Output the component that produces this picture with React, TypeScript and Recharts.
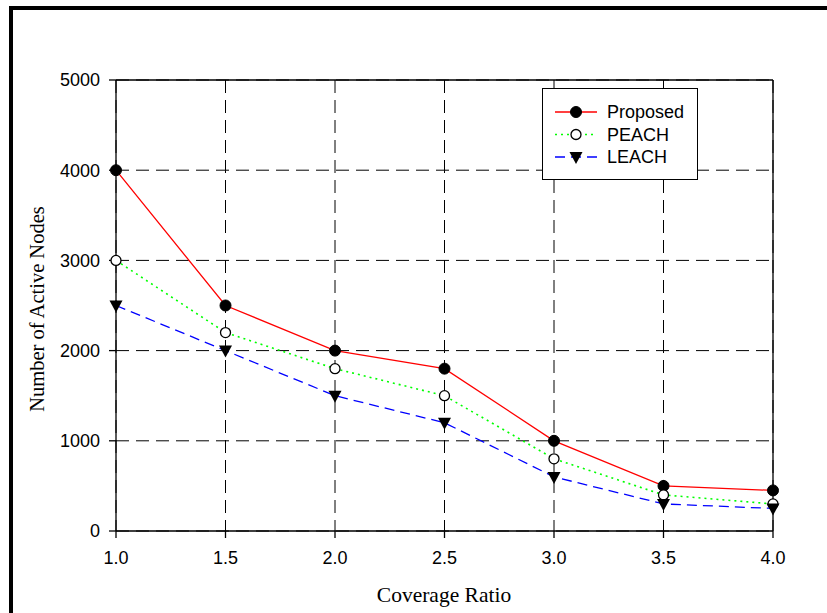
import React from 'react';
import { LineChart, Line, XAxis, YAxis, CartesianGrid, ReferenceLine, Label } from 'recharts';

const coverage = [1.0, 1.5, 2.0, 2.5, 3.0, 3.5, 4.0];
const proposed = [4000, 2500, 2000, 1800, 1000, 500, 450];
const peach = [3000, 2200, 1800, 1500, 800, 400, 300];
const leach = [2500, 2000, 1500, 1200, 600, 300, 250];
const xTicks = [1.0, 1.5, 2.0, 2.5, 3.0, 3.5, 4.0];
const yTicks = [0, 1000, 2000, 3000, 4000, 5000];

const data = coverage.map((c, i) => ({ x: c, proposed: proposed[i], peach: peach[i], leach: leach[i] }));

const FilledDot = (props: any) => {
  const { cx, cy } = props;
  if (cx == null || cy == null) return null;
  return <circle cx={cx} cy={cy} r={5.5} fill="#000" stroke="#000" strokeWidth={1} />;
};
const OpenDot = (props: any) => {
  const { cx, cy } = props;
  if (cx == null || cy == null) return null;
  return <circle cx={cx} cy={cy} r={5} fill="#fff" stroke="#000" strokeWidth={1.3} />;
};
const TriDot = (props: any) => {
  const { cx, cy } = props;
  if (cx == null || cy == null) return null;
  return <path d={`M${cx - 6.5},${cy - 5} L${cx + 6.5},${cy - 5} L${cx},${cy + 7} Z`} fill="#000" />;
};

const legendItems = [
  { name: 'Proposed', color: '#ff0000', dash: undefined, dot: 'filled' },
  { name: 'PEACH', color: '#00ff00', dash: '2 4', dot: 'open' },
  { name: 'LEACH', color: '#0000ff', dash: '10 6', dot: 'tri' },
];

const LegendBox = () => (
  <svg width={156} height={92} style={{ display: 'block' }}>
    <rect x={0.5} y={0.5} width={155} height={91} fill="#fff" stroke="#000" strokeWidth={1} />
    {legendItems.map((it, i) => {
      const y = 24 + i * 22.5;
      const cx = 34;
      return (
        <g key={it.name}>
          <line x1={13} x2={55} y1={y} y2={y} stroke={it.color} strokeWidth={1.3} strokeDasharray={it.dash} />
          {it.dot === 'filled' && <FilledDot cx={cx} cy={y} />}
          {it.dot === 'open' && <OpenDot cx={cx} cy={y} />}
          {it.dot === 'tri' && <TriDot cx={cx} cy={y} />}
          <text x={65} y={y + 6} fontFamily="'Liberation Sans', Arial, sans-serif" fontSize={18} fill="#000">{it.name}</text>
        </g>
      );
    })}
  </svg>
);

export default function App() {
  return (
    <div style={{ position: 'absolute', left: 0, top: 0, width: 827, height: 613, background: '#fff' }}>
      <div style={{ position: 'absolute', left: 9, top: 6, width: 818, height: 4, background: '#000' }} />
      <div style={{ position: 'absolute', left: 9, top: 6, width: 4, height: 607, background: '#000' }} />
      <div style={{ position: 'absolute', left: 0, top: 0 }}>
        <LineChart width={827} height={613} data={data} margin={{ top: 80, right: 54, bottom: 42, left: 56 }}>
          <CartesianGrid stroke="#000" strokeDasharray="13 7" strokeWidth={1} />
          <XAxis
            dataKey="x"
            type="number"
            domain={[1, 4]}
            ticks={xTicks}
            tickFormatter={(v: number) => v.toFixed(1)}
            stroke="#000"
            tickSize={7}
            tickMargin={13}
            height={40}
            tick={{ fill: '#000', fontSize: 18, fontFamily: "'Liberation Sans', Arial, sans-serif" }}
            axisLine={{ stroke: '#000', strokeWidth: 1.3 }}
            tickLine={{ stroke: '#000', strokeWidth: 1.3 }}
          >
            <Label
              content={() => (
                <text x={444} y={602} textAnchor="middle" fontFamily="'Liberation Serif', 'Times New Roman', serif" fontSize={21.5} fill="#000">
                  Coverage Ratio
                </text>
              )}
            />
          </XAxis>
          <YAxis
            type="number"
            domain={[0, 5000]}
            ticks={yTicks}
            width={60}
            stroke="#000"
            tickSize={7}
            tickMargin={9}
            tick={{ fill: '#000', fontSize: 18, fontFamily: "'Liberation Sans', Arial, sans-serif" }}
            axisLine={{ stroke: '#000', strokeWidth: 1.3 }}
            tickLine={{ stroke: '#000', strokeWidth: 1.3 }}
          >
            <Label
              content={() => (
                <text x={44} y={309} transform="rotate(-90 44 309)" textAnchor="middle" fontFamily="'Liberation Serif', 'Times New Roman', serif" fontSize={20.5} fill="#000">
                  Number of Active Nodes
                </text>
              )}
            />
          </YAxis>
          <ReferenceLine y={5000} stroke="#000" strokeWidth={1.3} />
          <ReferenceLine x={4} stroke="#000" strokeWidth={1.3} />
          <Line type="linear" dataKey="proposed" stroke="#ff0000" strokeWidth={1.3} dot={<FilledDot />} isAnimationActive={false} />
          <Line type="linear" dataKey="peach" stroke="#00ff00" strokeWidth={1.6} strokeDasharray="2 4" dot={<OpenDot />} isAnimationActive={false} />
          <Line type="linear" dataKey="leach" stroke="#0000ff" strokeWidth={1.3} strokeDasharray="10 6" dot={<TriDot />} isAnimationActive={false} />
        </LineChart>
      </div>
      <div style={{ position: 'absolute', left: 542, top: 88 }}>
        <LegendBox />
      </div>
    </div>
  );
}
